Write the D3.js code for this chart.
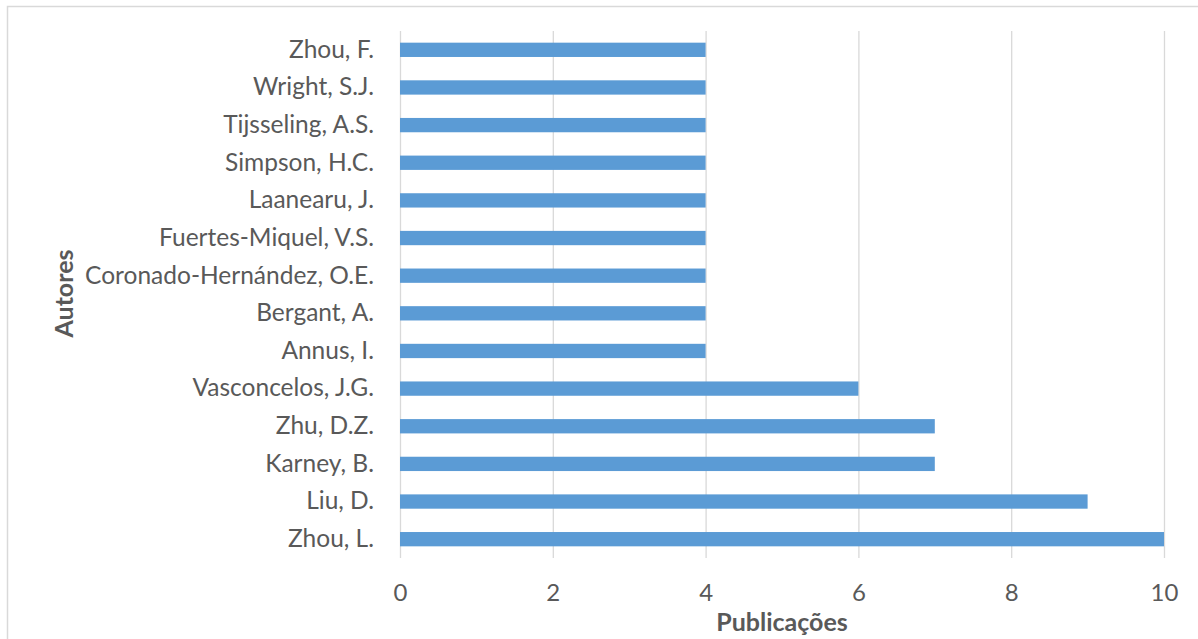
<!DOCTYPE html>
<html>
<head>
<meta charset="utf-8">
<script src="https://cdn.jsdelivr.net/npm/d3@7"></script>
<style>
  html, body { margin: 0; padding: 0; background: #fff; }
  svg { display: block; }
  text { font-family: Lato, "Open Sans", sans-serif; }
</style>
</head>
<body>
<svg id="chart" width="1198" height="639"></svg>
<script>
// Authors (top to bottom) and their publication counts
const authors = [
  "Zhou, F.", "Wright, S.J.", "Tijsseling, A.S.", "Simpson, H.C.", "Laanearu, J.",
  "Fuertes-Miquel, V.S.", "Coronado-Hernández, O.E.", "Bergant, A.", "Annus, I.",
  "Vasconcelos, J.G.", "Zhu, D.Z.", "Karney, B.", "Liu, D.", "Zhou, L."
];
const publications = [4, 4, 4, 4, 4, 4, 4, 4, 4, 6, 7, 7, 9, 10];
const xTicks = [0, 2, 4, 6, 8, 10];
const xTitle = "Publicações";
const yTitle = "Autores";

const svg = d3.select("#chart");
const W = 1198, H = 639;
const plot = { left: 400, right: 1164, top: 31, bottom: 558 };
const fontStack = "Lato, 'Open Sans', sans-serif";

// outer chart border
svg.append("rect")
  .attr("x", 7.5).attr("y", 6.5)
  .attr("width", W + 10).attr("height", H + 10)
  .attr("fill", "none").attr("stroke", "#d9d9d9").attr("stroke-width", 1.5);

const x = d3.scaleLinear().domain([0, 10]).range([plot.left, plot.right]);
const y = d3.scaleBand().domain(authors).range([plot.top, plot.bottom]).paddingInner(0.62).paddingOuter(0.31);

// vertical gridlines
const grid = svg.append("g").attr("transform", `translate(0,${plot.bottom})`)
  .call(d3.axisBottom(x).tickValues(xTicks).tickSize(-(plot.bottom - plot.top)).tickFormat(""));
grid.select(".domain").remove();
grid.selectAll("line").attr("stroke", "#d9d9d9").attr("stroke-width", 1.3);

// x tick labels
const xAxis = svg.append("g").attr("transform", `translate(0,${plot.bottom})`)
  .call(d3.axisBottom(x).tickValues(xTicks).tickSize(0).tickPadding(26));
xAxis.select(".domain").remove();
xAxis.selectAll("text").attr("fill", "#595959").style("font-size", "24px")
  .style("font-family", fontStack);

// bars
svg.append("g").selectAll("rect")
  .data(authors)
  .join("rect")
  .attr("x", x(0))
  .attr("y", d => y(d))
  .attr("width", (d, i) => x(publications[i]) - x(0))
  .attr("height", y.bandwidth())
  .attr("fill", "#5b9bd5");

// category labels
const yAxis = svg.append("g").attr("transform", `translate(${plot.left},0)`)
  .call(d3.axisLeft(y).tickSize(0).tickPadding(26));
yAxis.select(".domain").remove();
yAxis.selectAll("text").attr("fill", "#595959").style("font-size", "24.5px")
  .style("font-family", fontStack);

// axis titles
svg.append("text")
  .attr("x", (plot.left + plot.right) / 2).attr("y", 631)
  .attr("text-anchor", "middle")
  .attr("fill", "#595959").attr("font-weight", "bold").style("font-size", "25px")
  .text(xTitle);

svg.append("text")
  .attr("transform", `translate(73,${(plot.top + plot.bottom) / 2 - 1}) rotate(-90)`)
  .attr("text-anchor", "middle")
  .attr("fill", "#595959").attr("font-weight", "bold").style("font-size", "25px")
  .text(yTitle);
</script>
</body>
</html>
